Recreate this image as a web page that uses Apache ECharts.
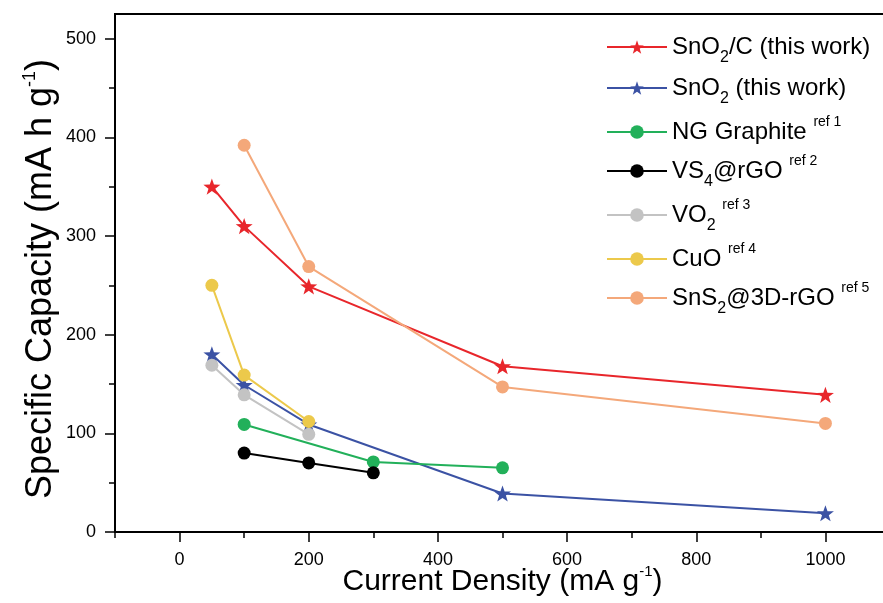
<!DOCTYPE html>
<html>
<head>
<meta charset="utf-8">
<script src="https://cdn.jsdelivr.net/npm/echarts@6/dist/echarts.min.js"></script>
<style>html,body{margin:0;padding:0;background:#fff}#c{width:883px;height:603px}</style>
</head>
<body>
<div id="c"></div>
<script>
const seriesNames = ['SnO2/C (this work)','SnO2 (this work)','NG Graphite ref 1','VS4@rGO ref 2','VO2 ref 3','CuO ref 4','SnS2@3D-rGO ref 5'];
const legendLabels = ['SnO{sub|2}/C (this work)','SnO{sub|2} (this work)','NG Graphite {sup|ref 1}','VS{sub|4}@rGO {sup|ref 2}','VO{sub|2} {sup|ref 3}','CuO {sup|ref 4}','SnS{sub|2}@3D-rGO {sup|ref 5}'];
const colors = ['#e8262b','#3b52a4','#22b05a','#000000','#c3c3c3','#ecc94b','#f4a87a'];
const STAR = 'path://M0,-10 L2.35,-3.24 L9.51,-3.09 L3.8,1.24 L5.88,8.09 L0,4 L-5.88,8.09 L-3.8,1.24 L-9.51,-3.09 L-2.35,-3.24 Z';
const symbols = [STAR,STAR,'circle','circle','circle','circle','circle'];

const snO2C_x = [50,100,200,500,1000];
const snO2C_y = [350,310,249,168,139];
const snO2_x = [50,100,200,500,1000];
const snO2_y = [180,149,109,39,19];
const ng_x = [100,300,500];
const ng_y = [109,71,65];
const vs4_x = [100,200,300];
const vs4_y = [80,70,60];
const vo2_x = [50,100,200];
const vo2_y = [169,139,99];
const cuo_x = [50,100,200];
const cuo_y = [250,159,112];
const sns2_x = [100,200,500,1000];
const sns2_y = [392,269,147,110];

const xs = [snO2C_x,snO2_x,ng_x,vs4_x,vo2_x,cuo_x,sns2_x];
const ys = [snO2C_y,snO2_y,ng_y,vs4_y,vo2_y,cuo_y,sns2_y];

const xMajor = [0,200,400,600,800,1000];
const xMinor = [-100,100,300,500,700,900,1100];
const yMajor = [0,100,200,300,400,500];
const yMinor = [50,150,250,350,450];

const FONT = 'Liberation Sans, Arial, sans-serif';
const chart = echarts.init(document.getElementById('c'));

const series = seriesNames.map((n,i)=>({
  name:n, type:'line', xAxisIndex:0, yAxisIndex:0,
  data: xs[i].map((x,k)=>[x, ys[i][k]]),
  symbol: symbols[i], symbolSize: i<2?17:13, symbolKeepAspect:true,
  itemStyle:{color:colors[i]},
  lineStyle:{color:colors[i], width:2},
  z: 2
}));

const supRich = {sup:{fontSize:15, padding:[0,0,20,0], fontFamily:FONT, color:'#000'}};

chart.setOption({
  animation:false,
  backgroundColor:'#fff',
  textStyle:{fontFamily:FONT},
  grid:{left:115, top:14, right:-7, bottom:71, show:true, borderColor:'#000', borderWidth:2, backgroundColor:'transparent', containLabel:false, outerBoundsMode:'none'},
  legend:{
    orient:'vertical', left:601, top:28, itemWidth:60, itemHeight:17, itemGap:8,
    data: seriesNames,
    formatter: (n)=>legendLabels[seriesNames.indexOf(n)],
    textStyle:{fontFamily:FONT, fontSize:24, color:'#000', lineHeight:28,
      rich:{
        sub:{fontSize:16, padding:[22,0,0,0], fontFamily:FONT, color:'#000'},
        sup:{fontSize:14, padding:[0,0,20,0], fontFamily:FONT, color:'#000'}
      }
    }
  },
  xAxis:[
    {type:'value', min:-100, max:1100, position:'bottom',
     axisLine:{show:true, onZero:false, lineStyle:{color:'#000', width:2}},
     axisTick:{show:true, inside:false, length:10, customValues:xMajor, lineStyle:{color:'#000', width:1.5}},
     axisLabel:{show:true, customValues:xMajor, fontSize:18, color:'#000', margin:19, fontFamily:FONT, formatter:(v)=>String(v)},
     splitLine:{show:false},
     name:'Current Density (mA g{sup|-1})', nameLocation:'middle', nameGap:32, nameMoveOverlap:false,
     nameTextStyle:{fontSize:30, color:'#000', fontFamily:FONT, rich:supRich}
    },
    {type:'value', min:-100, max:1100, position:'bottom', offset:0,
     axisLine:{show:false, onZero:false},
     axisTick:{show:true, inside:false, length:6, customValues:xMinor, lineStyle:{color:'#000', width:1.5}},
     axisLabel:{show:false}, splitLine:{show:false}}
  ],
  yAxis:[
    {type:'value', min:0, max:525, position:'left',
     axisLine:{show:true, onZero:false, lineStyle:{color:'#000', width:2}},
     axisTick:{show:true, inside:false, length:10, customValues:yMajor, lineStyle:{color:'#000', width:1.5}},
     axisLabel:{show:true, customValues:yMajor, fontSize:18, color:'#000', margin:19, fontFamily:FONT},
     splitLine:{show:false},
     name:'Specific Capacity (mA h g{sup|-1})', nameLocation:'middle', nameGap:54, nameRotate:90, nameMoveOverlap:false,
     nameTextStyle:{fontSize:36, color:'#000', fontFamily:FONT, padding:[0,12,0,0], rich:{sup:{fontSize:18, padding:[0,0,22,0], fontFamily:FONT, color:'#000'}}}
    },
    {type:'value', min:0, max:525, position:'left', offset:0,
     axisLine:{show:false, onZero:false},
     axisTick:{show:true, inside:false, length:6, customValues:yMinor, lineStyle:{color:'#000', width:1.5}},
     axisLabel:{show:false}, splitLine:{show:false}}
  ],
  series: series
});
</script>
</body>
</html>
